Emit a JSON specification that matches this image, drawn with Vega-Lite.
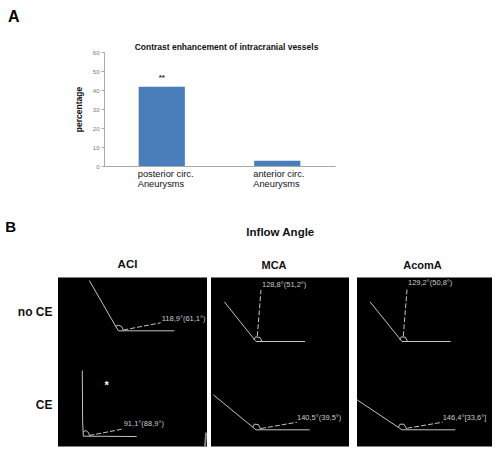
{"$schema":"https://vega.github.io/schema/vega-lite/v6.json","background":"white","padding":{"left":5,"top":8,"right":0,"bottom":0},"spacing":30.5,
"config":{"font":"Liberation Sans","view":{"stroke":null},"title":{"font":"Liberation Sans","fontWeight":"bold","color":"#111"}},
"datasets":{
"bars":[{"group":"posterior circ.|Aneurysms","percentage":41.7,"mark":"**"},{"group":"anterior circ.|Aneurysms","percentage":2.8,"mark":""}],
"lines":[
{"panel":"ACI","seg":"n1","i":0,"x":31.3,"y":3,"kind":"solid"},{"panel":"ACI","seg":"n1","i":1,"x":60.3,"y":53.3,"kind":"solid"},{"panel":"ACI","seg":"n1","i":2,"x":116.3,"y":53.3,"kind":"solid"},
{"panel":"ACI","seg":"nd","i":0,"x":65.3,"y":52.5,"kind":"dash"},{"panel":"ACI","seg":"nd","i":1,"x":102.7,"y":45.3,"kind":"dash"},
{"panel":"ACI","seg":"na","i":0,"x":57.3,"y":49,"kind":"solid"},{"panel":"ACI","seg":"na","i":1,"x":60.3,"y":47.7,"kind":"solid"},{"panel":"ACI","seg":"na","i":2,"x":63.7,"y":49,"kind":"solid"},{"panel":"ACI","seg":"na","i":3,"x":65.3,"y":52.7,"kind":"solid"},
{"panel":"ACI","seg":"c1","i":0,"x":24.3,"y":93,"kind":"solid"},{"panel":"ACI","seg":"c1","i":1,"x":24.6,"y":143,"kind":"solid"},{"panel":"ACI","seg":"c1","i":2,"x":25.3,"y":158.7,"kind":"solid"},{"panel":"ACI","seg":"c1","i":3,"x":78.7,"y":159,"kind":"solid"},
{"panel":"ACI","seg":"cd","i":0,"x":31.3,"y":158,"kind":"dash"},{"panel":"ACI","seg":"cd","i":1,"x":66,"y":151.3,"kind":"dash"},
{"panel":"ACI","seg":"ca","i":0,"x":25.3,"y":154.3,"kind":"solid"},{"panel":"ACI","seg":"ca","i":1,"x":28,"y":153,"kind":"solid"},{"panel":"ACI","seg":"ca","i":2,"x":30.7,"y":155.3,"kind":"solid"},{"panel":"ACI","seg":"ca","i":3,"x":31.3,"y":158,"kind":"solid"},
{"panel":"MCA","seg":"n1","i":0,"x":13.3,"y":24.3,"kind":"solid"},{"panel":"MCA","seg":"n1","i":1,"x":45,"y":64,"kind":"solid"},{"panel":"MCA","seg":"n1","i":2,"x":94,"y":64,"kind":"solid"},
{"panel":"MCA","seg":"nd","i":0,"x":46.3,"y":58.7,"kind":"dash"},{"panel":"MCA","seg":"nd","i":1,"x":50,"y":12.3,"kind":"dash"},
{"panel":"MCA","seg":"na","i":0,"x":43,"y":62,"kind":"solid"},{"panel":"MCA","seg":"na","i":1,"x":44.7,"y":59.3,"kind":"solid"},{"panel":"MCA","seg":"na","i":2,"x":49,"y":60,"kind":"solid"},{"panel":"MCA","seg":"na","i":3,"x":51,"y":64,"kind":"solid"},
{"panel":"MCA","seg":"c1","i":0,"x":2.3,"y":117.3,"kind":"solid"},{"panel":"MCA","seg":"c1","i":1,"x":45,"y":152.3,"kind":"solid"},{"panel":"MCA","seg":"c1","i":2,"x":98.7,"y":152.3,"kind":"solid"},
{"panel":"MCA","seg":"cd","i":0,"x":50,"y":151,"kind":"dash"},{"panel":"MCA","seg":"cd","i":1,"x":86,"y":144.7,"kind":"dash"},
{"panel":"MCA","seg":"ca","i":0,"x":41.7,"y":149.7,"kind":"solid"},{"panel":"MCA","seg":"ca","i":1,"x":43.3,"y":146.7,"kind":"solid"},{"panel":"MCA","seg":"ca","i":2,"x":47.3,"y":147,"kind":"solid"},{"panel":"MCA","seg":"ca","i":3,"x":49.7,"y":151.7,"kind":"solid"},
{"panel":"AcomA","seg":"n1","i":0,"x":13,"y":24.3,"kind":"solid"},{"panel":"AcomA","seg":"n1","i":1,"x":45,"y":64,"kind":"solid"},{"panel":"AcomA","seg":"n1","i":2,"x":93.7,"y":64,"kind":"solid"},
{"panel":"AcomA","seg":"nd","i":0,"x":46.3,"y":58.7,"kind":"dash"},{"panel":"AcomA","seg":"nd","i":1,"x":50,"y":12,"kind":"dash"},
{"panel":"AcomA","seg":"na","i":0,"x":42.7,"y":62,"kind":"solid"},{"panel":"AcomA","seg":"na","i":1,"x":44.3,"y":59.3,"kind":"solid"},{"panel":"AcomA","seg":"na","i":2,"x":48.3,"y":59.7,"kind":"solid"},{"panel":"AcomA","seg":"na","i":3,"x":50.7,"y":64,"kind":"solid"},
{"panel":"AcomA","seg":"c1","i":0,"x":0,"y":122.3,"kind":"solid"},{"panel":"AcomA","seg":"c1","i":1,"x":45,"y":152.3,"kind":"solid"},{"panel":"AcomA","seg":"c1","i":2,"x":98.3,"y":152.3,"kind":"solid"},
{"panel":"AcomA","seg":"cd","i":0,"x":50.3,"y":150.7,"kind":"dash"},{"panel":"AcomA","seg":"cd","i":1,"x":85.7,"y":144.7,"kind":"dash"},
{"panel":"AcomA","seg":"ca","i":0,"x":41.3,"y":149.7,"kind":"solid"},{"panel":"AcomA","seg":"ca","i":1,"x":43,"y":146.7,"kind":"solid"},{"panel":"AcomA","seg":"ca","i":2,"x":47,"y":146.7,"kind":"solid"},{"panel":"AcomA","seg":"ca","i":3,"x":49.7,"y":151.7,"kind":"solid"}
],
"labels":[
{"panel":"ACI","x":103.7,"y":41.3,"text":"118,9°(61,1°)"},{"panel":"ACI","x":65.7,"y":146,"text":"91,1°(88,9°)"},
{"panel":"MCA","x":51,"y":7,"text":"128,8°(51,2°)"},{"panel":"MCA","x":86,"y":140.7,"text":"140,5°(39,5°)"},
{"panel":"AcomA","x":51,"y":5.7,"text":"129,2°(50,8°)"},{"panel":"AcomA","x":85.7,"y":140,"text":"146,4°[33,6°]"}
],
"stars":[{"x":48.7,"y":108,"text":"*"}],
"wedge":[{"i":0,"x":147,"y":169},{"i":1,"x":148.2,"y":155}]
},
"vconcat":[
{"hconcat":[
 {"width":46,"height":114,"title":{"text":"A","anchor":"start","dx":-50,"offset":27.5,"fontSize":16,"color":"#000"},"data":{"name":"bars"},"mark":{"type":"text","opacity":0},"encoding":{}},
 {"width":231,"height":114,"title":{"text":"Contrast enhancement of intracranial vessels","fontSize":8.5,"dx":7,"offset":-2.5},
  "data":{"name":"bars"},
  "encoding":{"x":{"field":"group","type":"nominal","sort":null,"scale":{"paddingInner":0.6,"paddingOuter":0.3},
    "axis":{"title":null,"labelExpr":"split(datum.label,'|')","labelAngle":0,"labelAlign":"left","labelOffset":-24,"labelFontSize":9.3,"labelColor":"#111","labelPadding":3,"labelLineHeight":10.5,"ticks":false,"domainColor":"#aaa","grid":false}},
   "y":{"field":"percentage","type":"quantitative","scale":{"domain":[0,60]},
    "axis":{"title":"percentage","titleFontSize":8.5,"titleFontWeight":"bold","titleColor":"#111","titlePadding":9,"values":[0,10,20,30,40,50,60],"labelFontSize":6,"labelColor":"#777","labelPadding":2,"tickSize":3,"tickColor":"#aaa","domainColor":"#aaa","grid":false}}},
  "layer":[
   {"mark":{"type":"bar","color":"#4a7ebb"}},
   {"mark":{"type":"text","fontSize":8,"fontWeight":"bold","color":"#222","dy":-9},"encoding":{"text":{"field":"mark"}}}
  ]}
],"spacing":0,"bounds":"flush"},
{"title":{"text":"B","anchor":"start","dx":-12,"offset":-8.5,"fontSize":15,"color":"#000"},"spacing":0,
 "vconcat":[{"title":{"text":"Inflow Angle","fontSize":11.5,"dx":229,"offset":21},"spacing":6,"hconcat":[
  {"hconcat":[
   {"width":149,"height":169,"view":{"fill":"#000"},"title":{"text":"ACI","fontSize":11.5,"dx":-5,"offset":7},
    "encoding":{"x":{"field":"x","type":"quantitative","scale":{"domain":[0,149]},"axis":null},"y":{"field":"y","type":"quantitative","scale":{"domain":[169,0]},"axis":{"orient":"left","title":null,"values":[34,127],"labelExpr":"datum.value==34?'no CE':'CE'","labelFontSize":12,"labelFontWeight":"bold","labelColor":"#111","labelPadding":6,"ticks":false,"domain":false,"grid":false}}},
    "layer":[
     {"data":{"name":"lines"},"transform":[{"filter":"datum.panel=='ACI'&&datum.kind=='solid'"}],"mark":{"type":"line","color":"#c4c4c4","strokeWidth":1},"encoding":{"detail":{"field":"seg"},"order":{"field":"i"}}},
     {"data":{"name":"lines"},"transform":[{"filter":"datum.panel=='ACI'&&datum.kind=='dash'"}],"mark":{"type":"line","color":"#c4c4c4","strokeWidth":1,"strokeDash":[5,2]},"encoding":{"detail":{"field":"seg"},"order":{"field":"i"}}},
     {"data":{"name":"wedge"},"mark":{"type":"line","color":"#888","strokeWidth":2},"encoding":{"order":{"field":"i"}}},
     {"data":{"name":"labels"},"transform":[{"filter":"datum.panel=='ACI'"}],"mark":{"type":"text","align":"left","fontSize":7.5,"color":"#ccc"},"encoding":{"text":{"field":"text"}}},
     {"data":{"name":"stars"},"mark":{"type":"text","fontSize":11,"fontWeight":"bold","color":"#fff"},"encoding":{"text":{"field":"text"}}}
    ]},
   {"width":138,"height":169,"view":{"fill":"#000"},"title":{"text":"MCA","fontSize":11,"dx":-6,"offset":7},
    "encoding":{"x":{"field":"x","type":"quantitative","scale":{"domain":[0,138]},"axis":null},"y":{"field":"y","type":"quantitative","scale":{"domain":[169,0]},"axis":null}},
    "layer":[
     {"data":{"name":"lines"},"transform":[{"filter":"datum.panel=='MCA'&&datum.kind=='solid'"}],"mark":{"type":"line","color":"#c4c4c4","strokeWidth":1},"encoding":{"detail":{"field":"seg"},"order":{"field":"i"}}},
     {"data":{"name":"lines"},"transform":[{"filter":"datum.panel=='MCA'&&datum.kind=='dash'"}],"mark":{"type":"line","color":"#c4c4c4","strokeWidth":1,"strokeDash":[5,2]},"encoding":{"detail":{"field":"seg"},"order":{"field":"i"}}},
     {"data":{"name":"labels"},"transform":[{"filter":"datum.panel=='MCA'"}],"mark":{"type":"text","align":"left","fontSize":7.5,"color":"#ccc"},"encoding":{"text":{"field":"text"}}}
    ]}
  ],"spacing":4,"bounds":"flush"},
  {"width":135,"height":169,"view":{"fill":"#000"},"title":{"text":"AcomA","fontSize":11,"dx":-2,"offset":7},
    "encoding":{"x":{"field":"x","type":"quantitative","scale":{"domain":[0,135]},"axis":null},"y":{"field":"y","type":"quantitative","scale":{"domain":[169,0]},"axis":null}},
    "layer":[
     {"data":{"name":"lines"},"transform":[{"filter":"datum.panel=='AcomA'&&datum.kind=='solid'"}],"mark":{"type":"line","color":"#c4c4c4","strokeWidth":1},"encoding":{"detail":{"field":"seg"},"order":{"field":"i"}}},
     {"data":{"name":"lines"},"transform":[{"filter":"datum.panel=='AcomA'&&datum.kind=='dash'"}],"mark":{"type":"line","color":"#c4c4c4","strokeWidth":1,"strokeDash":[5,2]},"encoding":{"detail":{"field":"seg"},"order":{"field":"i"}}},
     {"data":{"name":"labels"},"transform":[{"filter":"datum.panel=='AcomA'"}],"mark":{"type":"text","align":"left","fontSize":7.5,"color":"#ccc"},"encoding":{"text":{"field":"text"}}}
    ]}
 ]}]}
]}
